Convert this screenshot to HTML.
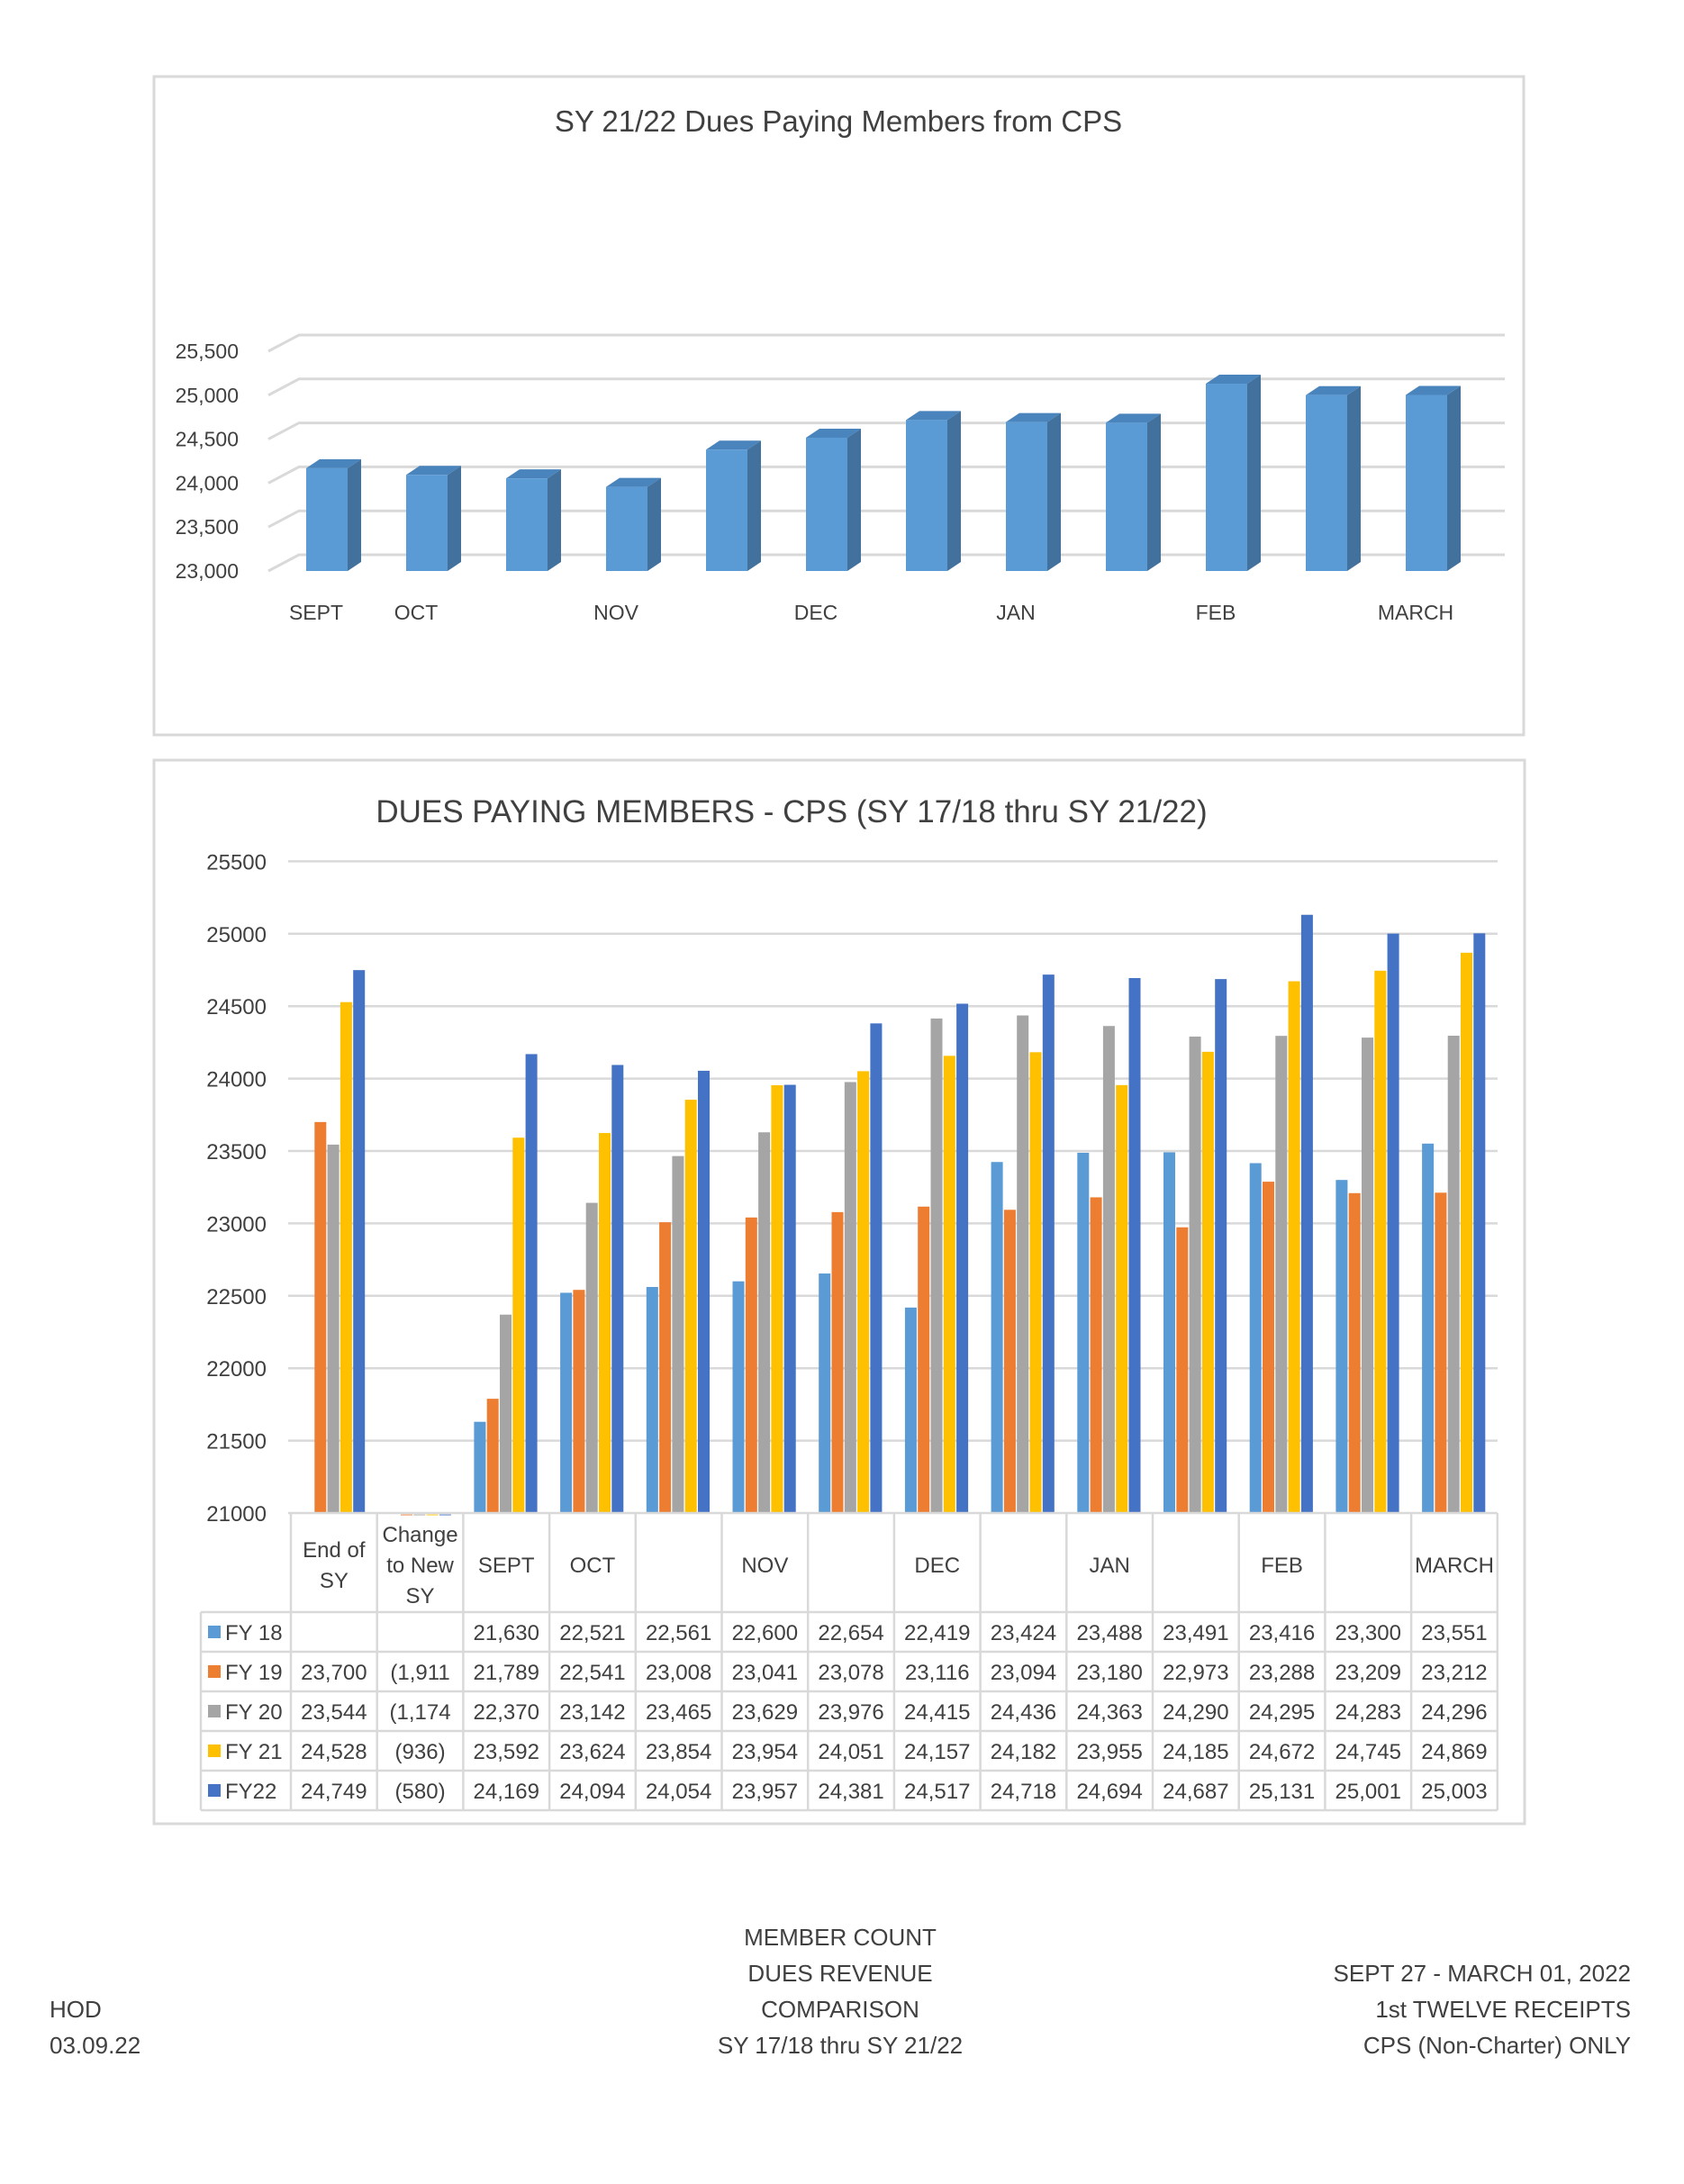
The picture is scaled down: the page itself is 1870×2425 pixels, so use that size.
<!DOCTYPE html>
<html><head><meta charset="utf-8"><style>
body{margin:0;background:#fff}
svg text{font-family:"Liberation Sans",sans-serif;fill:#404040}
</style></head><body>
<svg id="s" width="1870" height="2420" viewBox="0 0 1870 2420" xmlns="http://www.w3.org/2000/svg">
<rect x="171" y="85" width="1521" height="731" fill="#fff" stroke="#d9d9d9" stroke-width="3"/>
<text x="931" y="146" font-size="33" text-anchor="middle">SY 21/22 Dues Paying Members from CPS</text>
<g id="c1"></g>
<rect x="171" y="844" width="1522" height="1181" fill="#fff" stroke="#d9d9d9" stroke-width="3"/>
<text x="879" y="913" font-size="35" text-anchor="middle">DUES PAYING MEMBERS - CPS (SY 17/18 thru SY 21/22)</text>
<g id="c2"></g>
<g font-size="26">
<text x="933" y="2160" text-anchor="middle">MEMBER COUNT</text>
<text x="933" y="2200" text-anchor="middle">DUES REVENUE</text>
<text x="933" y="2240" text-anchor="middle">COMPARISON</text>
<text x="933" y="2280" text-anchor="middle">SY 17/18 thru SY 21/22</text>
<text x="55" y="2240">HOD</text>
<text x="55" y="2280">03.09.22</text>
<text x="1811" y="2200" text-anchor="end">SEPT  27 - MARCH 01, 2022</text>
<text x="1811" y="2240" text-anchor="end">1st TWELVE  RECEIPTS</text>
<text x="1811" y="2280" text-anchor="end">CPS (Non-Charter) ONLY</text>
</g>
</svg>
<script>
const c1Cats=["SEPT","OCT","","NOV","","DEC","","JAN","","FEB","","MARCH"];
const c1Vals=[24169,24094,24054,23957,24381,24517,24718,24694,24687,25131,25001,25003];
const c1Ticks=[23000,23500,24000,24500,25000,25500];
const c2Cats=[["End of","SY"],["Change","to New","SY"],["SEPT"],["OCT"],[""],["NOV"],[""],["DEC"],[""],["JAN"],[""],["FEB"],[""],["MARCH"]];
const seriesNames=["FY 18","FY 19","FY 20","FY 21","FY22"];
const fy18=[null,null,21630,22521,22561,22600,22654,22419,23424,23488,23491,23416,23300,23551];
const fy19=[23700,-1911,21789,22541,23008,23041,23078,23116,23094,23180,22973,23288,23209,23212];
const fy20=[23544,-1174,22370,23142,23465,23629,23976,24415,24436,24363,24290,24295,24283,24296];
const fy21=[24528,-936,23592,23624,23854,23954,24051,24157,24182,23955,24185,24672,24745,24869];
const fy22=[24749,-580,24169,24094,24054,23957,24381,24517,24718,24694,24687,25131,25001,25003];
const tableText=[
["","","21,630","22,521","22,561","22,600","22,654","22,419","23,424","23,488","23,491","23,416","23,300","23,551"],
["23,700","(1,911","21,789","22,541","23,008","23,041","23,078","23,116","23,094","23,180","22,973","23,288","23,209","23,212"],
["23,544","(1,174","22,370","23,142","23,465","23,629","23,976","24,415","24,436","24,363","24,290","24,295","24,283","24,296"],
["24,528","(936)","23,592","23,624","23,854","23,954","24,051","24,157","24,182","23,955","24,185","24,672","24,745","24,869"],
["24,749","(580)","24,169","24,094","24,054","23,957","24,381","24,517","24,718","24,694","24,687","25,131","25,001","25,003"]];
const c2Ticks=[21000,21500,22000,22500,23000,23500,24000,24500,25000,25500];
const colors=["#5b9bd5","#ed7d31","#a5a5a5","#ffc000","#4472c4"];
const NS="http://www.w3.org/2000/svg";
function mk(p,t,a,txt){const e=document.createElementNS(NS,t);for(const k in a)e.setAttribute(k,a[k]);if(txt!==undefined)e.textContent=txt;p.appendChild(e);return e;}
// chart1
const g1=document.getElementById('c1');
const y1=v=>634-(v-23000)/500*48.8;
const x1=i=>363+i*111;
const DX=34,DY=-18;
c1Ticks.forEach(t=>{
 const l=mk(g1,'polyline',{points:`${298},${y1(t)} ${298+DX},${y1(t)+DY} 1671,${y1(t)+DY}`,fill:'none',stroke:'#d9d9d9','stroke-width':3});
 
 const tx=mk(g1,'text',{x:265,y:y1(t)+8,'font-size':23,'text-anchor':'end'},t.toLocaleString('en-US'));
 
});
c1Vals.forEach((v,i)=>{
 const c=x1(i),a=c-23,b=c+23,top=y1(v),bot=y1(23000),d=15,e=10;
 const g=mk(g1,'g',{});
 
 mk(g,'polygon',{points:`${b},${bot} ${b+d},${bot-e} ${b+d},${top-e} ${b},${top}`,fill:'#41719c'});
 mk(g,'polygon',{points:`${a},${top} ${a+d},${top-e} ${b+d},${top-e} ${b},${top}`,fill:'#4a84bd'});
 mk(g,'rect',{x:a,y:top,width:46,height:bot-top,fill:'#5b9bd5'});
 if(c1Cats[i]){const t=mk(g1,'text',{x:c-12,y:688,'font-size':23,'text-anchor':'middle'},c1Cats[i]);
 }
});
// chart2
const g2=document.getElementById('c2');
const y2=v=>1680-(v-21000)/500*80.4;
const CW=95.7,X0=323;
const x2=i=>X0+i*CW;
c2Ticks.forEach(t=>{
 if(t>21000){const l=mk(g2,'line',{x1:320,x2:1663,y1:y2(t),y2:y2(t),stroke:'#d9d9d9','stroke-width':2.5});
 }
 const tx=mk(g2,'text',{x:296,y:y2(t)+9,'font-size':24,'text-anchor':'end'},String(t));
 
});
const series=[fy18,fy19,fy20,fy21,fy22];
series.forEach((arr,s)=>{arr.forEach((v,i)=>{
 if(v===null)return;
 let top=y2(v),h=1680-top;
 if(v<21000){top=1680;h=3;}
 const r=mk(g2,'rect',{x:x2(i)+12+s*14.3,y:top,width:13,height:h,fill:colors[s],opacity:v<21000?0.5:1});
 
});});
// table
const HB=1790,RH=44,TR=X0+14*CW;
mk(g2,'line',{x1:320,x2:TR,y1:1680,y2:1680,stroke:'#d9d9d9','stroke-width':2.5});
for(let i=0;i<=14;i++)mk(g2,'line',{x1:x2(i),x2:x2(i),y1:1680,y2:HB+5*RH,stroke:'#d9d9d9','stroke-width':2.5});
mk(g2,'line',{x1:223,x2:223,y1:HB,y2:HB+5*RH,stroke:'#d9d9d9','stroke-width':2.5});
for(let r=0;r<=5;r++)mk(g2,'line',{x1:223,x2:TR,y1:HB+r*RH,y2:HB+r*RH,stroke:'#d9d9d9','stroke-width':2.5});
c2Cats.forEach((lines,i)=>{
 const n=lines.length,cy=1737;
 lines.forEach((ln,k)=>{if(!ln)return;
  const t=mk(g2,'text',{x:x2(i)+CW/2,y:cy+(k-(n-1)/2)*34+9,'font-size':24,'text-anchor':'middle'},ln);
  });
});
seriesNames.forEach((nm,s)=>{
 const yy=HB+s*RH;
 const k=mk(g2,'rect',{x:231,y:yy+15,width:14,height:14,fill:colors[s]});
 
 const t=mk(g2,'text',{x:250,y:yy+31,'font-size':24},nm);
 
 tableText[s].forEach((v,i)=>{if(!v)return;
  const c=mk(g2,'text',{x:x2(i)+CW/2,y:yy+31,'font-size':24,'text-anchor':'middle'},v);
  });
});
</script>
</body></html>
